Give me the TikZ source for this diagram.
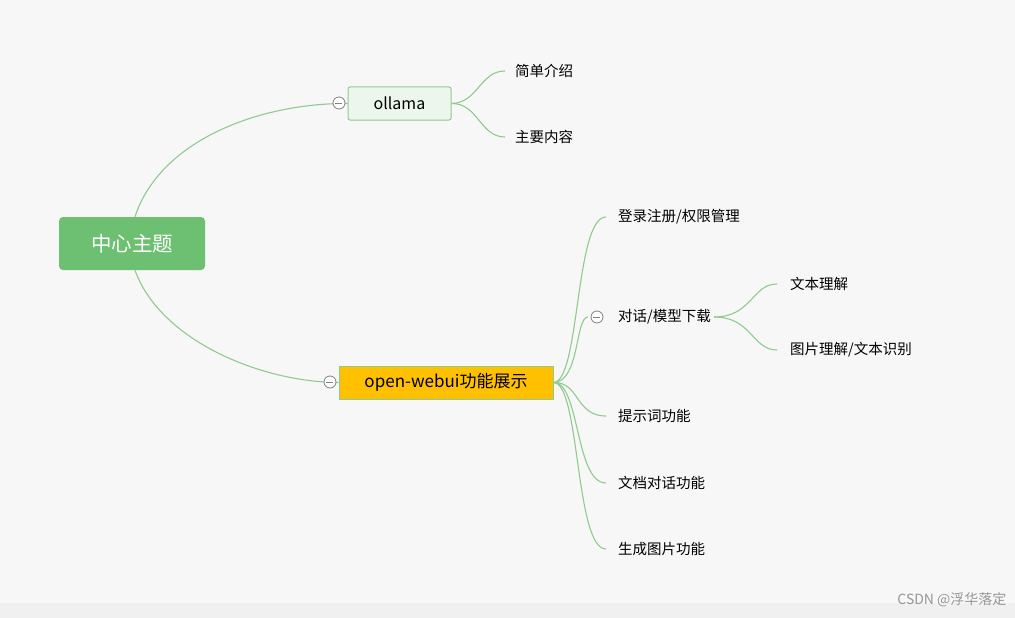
\documentclass[tikz,border=0pt]{standalone}
\usepackage{fontspec}
\setmainfont{Noto Sans CJK SC}
\begin{document}
\begin{tikzpicture}[x=1pt,y=-1pt,
  leaf/.style={anchor=west, font=\fontsize{14.5}{16}\selectfont, inner sep=0pt},
  coll/.style={circle, draw=gray, fill=white, minimum size=12pt, inner sep=0pt, line width=0.8pt}]
\definecolor{lc}{HTML}{8FCB8F}
\tikzset{conn/.style={draw=lc, line width=1.1pt}}
\fill[color={rgb,255:red,247;green,247;blue,247}] (0,0) rectangle (1015,618);
\fill[color={rgb,255:red,240;green,240;blue,240}] (0,603) rectangle (1015,618);
\useasboundingbox (0,0) rectangle (1015,618);
% main nodes
\node[fill={rgb,255:red,109;green,191;blue,114}, rounded corners=4pt, minimum width=146pt, minimum height=53pt, text=white, font=\fontsize{20.5}{22}\selectfont] (c) at (132,243.5) {中心主题};
\node[fill={rgb,255:red,236;green,246;blue,236}, draw=lc, line width=1pt, rounded corners=2pt, minimum width=103pt, minimum height=33pt, font=\fontsize{16}{17}\selectfont] (o) at (399.5,103.5) {ollama};
\node[fill={rgb,255:red,255;green,192;blue,0}, draw=lc, line width=1pt, minimum width=214pt, minimum height=33pt, font=\fontsize{17}{18}\selectfont] (w) at (446,382.5) {open-webui功能展示};
% connectors from centre
\draw[conn] (c.north) ++(3,0) coordinate (c1) .. controls (160,140) and (260,103) .. (o.west);
\draw[conn] (c.south) ++(3,0) coordinate (c2) .. controls (160,340) and (260,382) .. (w.west);
\node[coll] (k1) at (339,103) {}; \draw[gray,line width=0.8pt] (k1.west)++(2.5,0) -- ++(7,0);
\node[coll] (k2) at (330,382) {}; \draw[gray,line width=0.8pt] (k2.west)++(2.5,0) -- ++(7,0);
% ollama leaves
\node[leaf] (a1) at (515,71) {简单介绍};
\node[leaf] (a2) at (515,137) {主要内容};
\coordinate (e1) at (505,71); \coordinate (e2) at (505,137);
\draw[conn] (o.east) .. controls (478,103) and (480,71) .. (e1);
\draw[conn] (o.east) .. controls (478,103) and (480,137) .. (e2);
% webui leaves
\node[leaf] (b1) at (618,217) {登录注册/权限管理};
\node[leaf] (b2) at (618,317) {对话/模型下载};
\node[leaf] (b3) at (618,416) {提示词功能};
\node[leaf] (b4) at (618,483) {文档对话功能};
\node[leaf] (b5) at (618,549) {生成图片功能};
\coordinate (f1) at (606,217); \coordinate (f2) at (588,317); \coordinate (f3) at (606,416);
\coordinate (f4) at (606,483); \coordinate (f5) at (606,549);
\foreach \f/\yy in {f1/217,f2/317,f3/416,f4/483,f5/549}{
  \draw[conn] (w.east) .. controls (580,382) and (575,\yy) .. (\f);
}
\node[coll] (k3) at (597,317) {}; \draw[gray,line width=0.8pt] (k3.west)++(2.5,0) -- ++(7,0);
% dialog leaves
\node[leaf] (d1) at (790,284) {文本理解};
\node[leaf] (d2) at (790,350) {图片理解/文本识别};
\coordinate (g1) at (777,284); \coordinate (g2) at (777,350);
\draw[conn] (b2.east)++(3,0) coordinate (b2e) .. controls (752,317) and (752,284) .. (g1);
\draw[conn] (b2e) .. controls (752,317) and (752,350) .. (g2);
% watermark
\node[anchor=east, text={rgb,255:red,150;green,150;blue,150}, font=\fontsize{14}{15}\selectfont] (wm) at (1010,600) {CSDN @浮华落定};
\end{tikzpicture}
\end{document}
